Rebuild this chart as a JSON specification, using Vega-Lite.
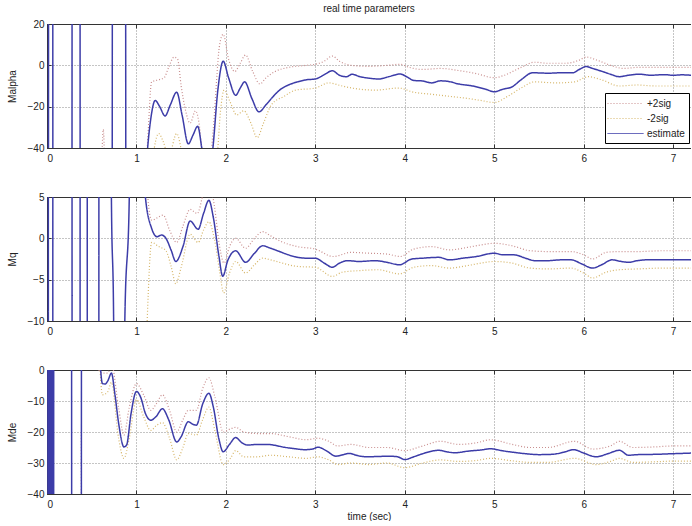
{
"$schema": "https://vega.github.io/schema/vega-lite/v6.json",
"background": "white",
"padding": {"left": 7, "top": 4, "right": 0, "bottom": 0},
"spacing": 49,
"bounds": "flush",
"config": {
  "font": "Liberation Sans",
  "view": {"stroke": null},
  "axis": {"labelFont": "Liberation Sans", "titleFont": "Liberation Sans", "labelFontSize": 10, "titleFontSize": 10, "titleFontWeight": "normal", "labelColor": "#222", "titleColor": "#222", "domainColor": "#333", "tickColor": "#333", "gridColor": "#8a8a8a", "gridDash": [1, 2], "gridOpacity": 1, "tickSize": -4},
  "legend": {"labelFont": "Liberation Sans", "labelFontSize": 10, "labelColor": "#222"},
  "title": {"font": "Liberation Sans", "fontSize": 10, "fontWeight": "normal", "color": "#222"}
},
"resolve": {"scale": {"color": "independent", "strokeDash": "independent"}},
"datasets": {"d": [
{"p":"Malpha","s":"+2sig","t":0.6,"v":-70},{"p":"Malpha","s":"+2sig","t":0.63,"v":-31},{"p":"Malpha","s":"+2sig","t":0.66,"v":-70},
{"p":"Malpha","s":"+2sig","t":1.08,"v":-60},{"p":"Malpha","s":"+2sig","t":1.12,"v":-40},{"p":"Malpha","s":"+2sig","t":1.17,"v":-8},{"p":"Malpha","s":"+2sig","t":1.25,"v":-7},{"p":"Malpha","s":"+2sig","t":1.31,"v":-6},{"p":"Malpha","s":"+2sig","t":1.36,"v":-1},{"p":"Malpha","s":"+2sig","t":1.42,"v":4},{"p":"Malpha","s":"+2sig","t":1.46,"v":3},{"p":"Malpha","s":"+2sig","t":1.5,"v":-10},{"p":"Malpha","s":"+2sig","t":1.55,"v":-22},{"p":"Malpha","s":"+2sig","t":1.6,"v":-28},{"p":"Malpha","s":"+2sig","t":1.66,"v":-22},{"p":"Malpha","s":"+2sig","t":1.7,"v":-28},{"p":"Malpha","s":"+2sig","t":1.74,"v":-45},{"p":"Malpha","s":"+2sig","t":1.8,"v":-55},{"p":"Malpha","s":"+2sig","t":1.86,"v":-30},{"p":"Malpha","s":"+2sig","t":1.93,"v":10},{"p":"Malpha","s":"+2sig","t":1.97,"v":15},{"p":"Malpha","s":"+2sig","t":2.03,"v":3},{"p":"Malpha","s":"+2sig","t":2.1,"v":-3},{"p":"Malpha","s":"+2sig","t":2.16,"v":1},{"p":"Malpha","s":"+2sig","t":2.22,"v":5},{"p":"Malpha","s":"+2sig","t":2.3,"v":-3},{"p":"Malpha","s":"+2sig","t":2.38,"v":-9},{"p":"Malpha","s":"+2sig","t":2.45,"v":-6},{"p":"Malpha","s":"+2sig","t":2.55,"v":-3},{"p":"Malpha","s":"+2sig","t":2.7,"v":-1},{"p":"Malpha","s":"+2sig","t":2.9,"v":0},{"p":"Malpha","s":"+2sig","t":3.0,"v":0.5},{"p":"Malpha","s":"+2sig","t":3.1,"v":2},{"p":"Malpha","s":"+2sig","t":3.19,"v":4.5},{"p":"Malpha","s":"+2sig","t":3.27,"v":2},{"p":"Malpha","s":"+2sig","t":3.4,"v":0},{"p":"Malpha","s":"+2sig","t":3.6,"v":-0.5},{"p":"Malpha","s":"+2sig","t":3.8,"v":0},{"p":"Malpha","s":"+2sig","t":3.95,"v":0.5},{"p":"Malpha","s":"+2sig","t":4.05,"v":-1},{"p":"Malpha","s":"+2sig","t":4.2,"v":-2},{"p":"Malpha","s":"+2sig","t":4.4,"v":-1.5},{"p":"Malpha","s":"+2sig","t":4.6,"v":-2.5},{"p":"Malpha","s":"+2sig","t":4.8,"v":-4},{"p":"Malpha","s":"+2sig","t":5.0,"v":-6},{"p":"Malpha","s":"+2sig","t":5.1,"v":-5},{"p":"Malpha","s":"+2sig","t":5.3,"v":-1},{"p":"Malpha","s":"+2sig","t":5.45,"v":1.5},{"p":"Malpha","s":"+2sig","t":5.6,"v":1},{"p":"Malpha","s":"+2sig","t":5.8,"v":1},{"p":"Malpha","s":"+2sig","t":5.95,"v":2.5},{"p":"Malpha","s":"+2sig","t":6.03,"v":4},{"p":"Malpha","s":"+2sig","t":6.15,"v":2.5},{"p":"Malpha","s":"+2sig","t":6.3,"v":0},{"p":"Malpha","s":"+2sig","t":6.45,"v":-1.5},{"p":"Malpha","s":"+2sig","t":6.6,"v":-1},{"p":"Malpha","s":"+2sig","t":6.8,"v":-1},{"p":"Malpha","s":"+2sig","t":7.0,"v":-1},{"p":"Malpha","s":"+2sig","t":7.2,"v":-1},
{"p":"Malpha","s":"-2sig","t":1.15,"v":-60},{"p":"Malpha","s":"-2sig","t":1.2,"v":-40},{"p":"Malpha","s":"-2sig","t":1.25,"v":-33},{"p":"Malpha","s":"-2sig","t":1.3,"v":-37},{"p":"Malpha","s":"-2sig","t":1.36,"v":-44},{"p":"Malpha","s":"-2sig","t":1.45,"v":-33},{"p":"Malpha","s":"-2sig","t":1.52,"v":-45},{"p":"Malpha","s":"-2sig","t":1.6,"v":-60},{"p":"Malpha","s":"-2sig","t":1.75,"v":-70},{"p":"Malpha","s":"-2sig","t":1.9,"v":-45},{"p":"Malpha","s":"-2sig","t":1.94,"v":-22},{"p":"Malpha","s":"-2sig","t":1.98,"v":-12},{"p":"Malpha","s":"-2sig","t":2.05,"v":-18},{"p":"Malpha","s":"-2sig","t":2.12,"v":-24},{"p":"Malpha","s":"-2sig","t":2.2,"v":-22},{"p":"Malpha","s":"-2sig","t":2.28,"v":-28},{"p":"Malpha","s":"-2sig","t":2.35,"v":-35},{"p":"Malpha","s":"-2sig","t":2.42,"v":-28},{"p":"Malpha","s":"-2sig","t":2.51,"v":-19},{"p":"Malpha","s":"-2sig","t":2.65,"v":-15},{"p":"Malpha","s":"-2sig","t":2.78,"v":-12},{"p":"Malpha","s":"-2sig","t":3.0,"v":-11},{"p":"Malpha","s":"-2sig","t":3.15,"v":-8.5},{"p":"Malpha","s":"-2sig","t":3.3,"v":-10},{"p":"Malpha","s":"-2sig","t":3.41,"v":-11},{"p":"Malpha","s":"-2sig","t":3.67,"v":-12},{"p":"Malpha","s":"-2sig","t":3.93,"v":-11},{"p":"Malpha","s":"-2sig","t":4.1,"v":-13},{"p":"Malpha","s":"-2sig","t":4.3,"v":-14},{"p":"Malpha","s":"-2sig","t":4.5,"v":-15},{"p":"Malpha","s":"-2sig","t":4.7,"v":-16},{"p":"Malpha","s":"-2sig","t":4.85,"v":-17},{"p":"Malpha","s":"-2sig","t":5.0,"v":-18},{"p":"Malpha","s":"-2sig","t":5.15,"v":-15},{"p":"Malpha","s":"-2sig","t":5.3,"v":-11},{"p":"Malpha","s":"-2sig","t":5.45,"v":-8},{"p":"Malpha","s":"-2sig","t":5.7,"v":-8.5},{"p":"Malpha","s":"-2sig","t":5.9,"v":-8},{"p":"Malpha","s":"-2sig","t":6.05,"v":-5.5},{"p":"Malpha","s":"-2sig","t":6.2,"v":-7},{"p":"Malpha","s":"-2sig","t":6.4,"v":-10},{"p":"Malpha","s":"-2sig","t":6.6,"v":-9.5},{"p":"Malpha","s":"-2sig","t":6.8,"v":-10},{"p":"Malpha","s":"-2sig","t":7.0,"v":-10},{"p":"Malpha","s":"-2sig","t":7.2,"v":-10},
{"p":"Malpha","s":"estimate","t":0.01,"v":-800},{"p":"Malpha","s":"estimate","t":0.03,"v":800},{"p":"Malpha","s":"estimate","t":0.055,"v":800},{"p":"Malpha","s":"estimate","t":0.075,"v":-800},{"p":"Malpha","s":"estimate","t":0.27,"v":-800},{"p":"Malpha","s":"estimate","t":0.29,"v":800},{"p":"Malpha","s":"estimate","t":0.36,"v":800},{"p":"Malpha","s":"estimate","t":0.38,"v":-800},{"p":"Malpha","s":"estimate","t":0.72,"v":-400},{"p":"Malpha","s":"estimate","t":0.74,"v":400},{"p":"Malpha","s":"estimate","t":0.87,"v":400},{"p":"Malpha","s":"estimate","t":0.89,"v":-400},{"p":"Malpha","s":"estimate","t":0.98,"v":-200},{"p":"Malpha","s":"estimate","t":1.06,"v":-90},{"p":"Malpha","s":"estimate","t":1.1,"v":-55},{"p":"Malpha","s":"estimate","t":1.125,"v":-40},{"p":"Malpha","s":"estimate","t":1.16,"v":-26},{"p":"Malpha","s":"estimate","t":1.21,"v":-17},{"p":"Malpha","s":"estimate","t":1.26,"v":-20},{"p":"Malpha","s":"estimate","t":1.32,"v":-24.5},{"p":"Malpha","s":"estimate","t":1.38,"v":-19},{"p":"Malpha","s":"estimate","t":1.45,"v":-13},{"p":"Malpha","s":"estimate","t":1.51,"v":-24},{"p":"Malpha","s":"estimate","t":1.58,"v":-38},{"p":"Malpha","s":"estimate","t":1.63,"v":-34},{"p":"Malpha","s":"estimate","t":1.685,"v":-29.5},{"p":"Malpha","s":"estimate","t":1.73,"v":-40},{"p":"Malpha","s":"estimate","t":1.79,"v":-60},{"p":"Malpha","s":"estimate","t":1.855,"v":-40},{"p":"Malpha","s":"estimate","t":1.91,"v":-12},{"p":"Malpha","s":"estimate","t":1.97,"v":2},{"p":"Malpha","s":"estimate","t":2.03,"v":-6},{"p":"Malpha","s":"estimate","t":2.11,"v":-14.5},{"p":"Malpha","s":"estimate","t":2.16,"v":-11},{"p":"Malpha","s":"estimate","t":2.21,"v":-8},{"p":"Malpha","s":"estimate","t":2.29,"v":-16},{"p":"Malpha","s":"estimate","t":2.37,"v":-22.5},{"p":"Malpha","s":"estimate","t":2.45,"v":-19},{"p":"Malpha","s":"estimate","t":2.52,"v":-15.5},{"p":"Malpha","s":"estimate","t":2.6,"v":-12},{"p":"Malpha","s":"estimate","t":2.7,"v":-9.5},{"p":"Malpha","s":"estimate","t":2.8,"v":-8},{"p":"Malpha","s":"estimate","t":2.9,"v":-7},{"p":"Malpha","s":"estimate","t":3.0,"v":-6.6},{"p":"Malpha","s":"estimate","t":3.1,"v":-4.5},{"p":"Malpha","s":"estimate","t":3.19,"v":-2.6},{"p":"Malpha","s":"estimate","t":3.27,"v":-4.8},{"p":"Malpha","s":"estimate","t":3.35,"v":-5.5},{"p":"Malpha","s":"estimate","t":3.41,"v":-4.3},{"p":"Malpha","s":"estimate","t":3.5,"v":-5.5},{"p":"Malpha","s":"estimate","t":3.6,"v":-6.2},{"p":"Malpha","s":"estimate","t":3.71,"v":-6.6},{"p":"Malpha","s":"estimate","t":3.82,"v":-5.5},{"p":"Malpha","s":"estimate","t":3.95,"v":-4.2},{"p":"Malpha","s":"estimate","t":4.02,"v":-5.5},{"p":"Malpha","s":"estimate","t":4.1,"v":-7.3},{"p":"Malpha","s":"estimate","t":4.2,"v":-7.6},{"p":"Malpha","s":"estimate","t":4.3,"v":-8.5},{"p":"Malpha","s":"estimate","t":4.4,"v":-7.5},{"p":"Malpha","s":"estimate","t":4.5,"v":-7.9},{"p":"Malpha","s":"estimate","t":4.6,"v":-9},{"p":"Malpha","s":"estimate","t":4.76,"v":-10},{"p":"Malpha","s":"estimate","t":4.9,"v":-11.5},{"p":"Malpha","s":"estimate","t":5.0,"v":-12.8},{"p":"Malpha","s":"estimate","t":5.1,"v":-11.5},{"p":"Malpha","s":"estimate","t":5.2,"v":-10.4},{"p":"Malpha","s":"estimate","t":5.3,"v":-7},{"p":"Malpha","s":"estimate","t":5.43,"v":-3.6},{"p":"Malpha","s":"estimate","t":5.6,"v":-3.8},{"p":"Malpha","s":"estimate","t":5.75,"v":-3.6},{"p":"Malpha","s":"estimate","t":5.88,"v":-3.6},{"p":"Malpha","s":"estimate","t":5.95,"v":-2},{"p":"Malpha","s":"estimate","t":6.03,"v":-0.6},{"p":"Malpha","s":"estimate","t":6.1,"v":-1.5},{"p":"Malpha","s":"estimate","t":6.21,"v":-3},{"p":"Malpha","s":"estimate","t":6.3,"v":-4.3},{"p":"Malpha","s":"estimate","t":6.4,"v":-5.5},{"p":"Malpha","s":"estimate","t":6.5,"v":-4.8},{"p":"Malpha","s":"estimate","t":6.62,"v":-4.3},{"p":"Malpha","s":"estimate","t":6.75,"v":-4.8},{"p":"Malpha","s":"estimate","t":6.9,"v":-4.5},{"p":"Malpha","s":"estimate","t":7.0,"v":-4.8},{"p":"Malpha","s":"estimate","t":7.1,"v":-4.6},{"p":"Malpha","s":"estimate","t":7.2,"v":-4.8},
{"p":"Mq","s":"+2sig","t":1.08,"v":20},{"p":"Mq","s":"+2sig","t":1.12,"v":6},{"p":"Mq","s":"+2sig","t":1.17,"v":2.2},{"p":"Mq","s":"+2sig","t":1.3,"v":2.8},{"p":"Mq","s":"+2sig","t":1.37,"v":1},{"p":"Mq","s":"+2sig","t":1.45,"v":-0.5},{"p":"Mq","s":"+2sig","t":1.52,"v":1.5},{"p":"Mq","s":"+2sig","t":1.6,"v":3.5},{"p":"Mq","s":"+2sig","t":1.68,"v":3},{"p":"Mq","s":"+2sig","t":1.75,"v":5.5},{"p":"Mq","s":"+2sig","t":1.81,"v":7},{"p":"Mq","s":"+2sig","t":1.87,"v":4},{"p":"Mq","s":"+2sig","t":1.93,"v":-1},{"p":"Mq","s":"+2sig","t":1.98,"v":-3},{"p":"Mq","s":"+2sig","t":2.04,"v":-1},{"p":"Mq","s":"+2sig","t":2.11,"v":0},{"p":"Mq","s":"+2sig","t":2.22,"v":-1.2},{"p":"Mq","s":"+2sig","t":2.32,"v":0},{"p":"Mq","s":"+2sig","t":2.41,"v":0.8},{"p":"Mq","s":"+2sig","t":2.5,"v":0.3},{"p":"Mq","s":"+2sig","t":2.6,"v":-0.3},{"p":"Mq","s":"+2sig","t":2.8,"v":-1},{"p":"Mq","s":"+2sig","t":3.0,"v":-1.3},{"p":"Mq","s":"+2sig","t":3.2,"v":-2.2},{"p":"Mq","s":"+2sig","t":3.4,"v":-1.7},{"p":"Mq","s":"+2sig","t":3.6,"v":-1.8},{"p":"Mq","s":"+2sig","t":3.8,"v":-1.9},{"p":"Mq","s":"+2sig","t":3.95,"v":-2.2},{"p":"Mq","s":"+2sig","t":4.1,"v":-1.3},{"p":"Mq","s":"+2sig","t":4.3,"v":-1},{"p":"Mq","s":"+2sig","t":4.5,"v":-1.4},{"p":"Mq","s":"+2sig","t":4.7,"v":-1.1},{"p":"Mq","s":"+2sig","t":4.85,"v":-0.8},{"p":"Mq","s":"+2sig","t":5.0,"v":-0.6},{"p":"Mq","s":"+2sig","t":5.2,"v":-0.9},{"p":"Mq","s":"+2sig","t":5.4,"v":-1.5},{"p":"Mq","s":"+2sig","t":5.6,"v":-1.6},{"p":"Mq","s":"+2sig","t":5.86,"v":-1.6},{"p":"Mq","s":"+2sig","t":6.0,"v":-2},{"p":"Mq","s":"+2sig","t":6.1,"v":-2.5},{"p":"Mq","s":"+2sig","t":6.25,"v":-1.7},{"p":"Mq","s":"+2sig","t":6.4,"v":-1.6},{"p":"Mq","s":"+2sig","t":6.6,"v":-1.6},{"p":"Mq","s":"+2sig","t":6.9,"v":-1.5},{"p":"Mq","s":"+2sig","t":7.2,"v":-1.5},
{"p":"Mq","s":"-2sig","t":1.12,"v":-10},{"p":"Mq","s":"-2sig","t":1.17,"v":-0.5},{"p":"Mq","s":"-2sig","t":1.25,"v":-1},{"p":"Mq","s":"-2sig","t":1.33,"v":-1.5},{"p":"Mq","s":"-2sig","t":1.39,"v":-3.5},{"p":"Mq","s":"-2sig","t":1.44,"v":-5.5},{"p":"Mq","s":"-2sig","t":1.5,"v":-3.5},{"p":"Mq","s":"-2sig","t":1.6,"v":0.5},{"p":"Mq","s":"-2sig","t":1.69,"v":-0.5},{"p":"Mq","s":"-2sig","t":1.75,"v":1},{"p":"Mq","s":"-2sig","t":1.81,"v":2},{"p":"Mq","s":"-2sig","t":1.87,"v":0},{"p":"Mq","s":"-2sig","t":1.93,"v":-4},{"p":"Mq","s":"-2sig","t":1.975,"v":-6.6},{"p":"Mq","s":"-2sig","t":2.04,"v":-4.2},{"p":"Mq","s":"-2sig","t":2.11,"v":-2.8},{"p":"Mq","s":"-2sig","t":2.22,"v":-4.2},{"p":"Mq","s":"-2sig","t":2.32,"v":-3.2},{"p":"Mq","s":"-2sig","t":2.41,"v":-2.4},{"p":"Mq","s":"-2sig","t":2.5,"v":-2.6},{"p":"Mq","s":"-2sig","t":2.6,"v":-2.9},{"p":"Mq","s":"-2sig","t":2.8,"v":-3.4},{"p":"Mq","s":"-2sig","t":3.0,"v":-3.5},{"p":"Mq","s":"-2sig","t":3.19,"v":-4.6},{"p":"Mq","s":"-2sig","t":3.3,"v":-4.1},{"p":"Mq","s":"-2sig","t":3.5,"v":-3.9},{"p":"Mq","s":"-2sig","t":3.7,"v":-3.8},{"p":"Mq","s":"-2sig","t":3.94,"v":-4.3},{"p":"Mq","s":"-2sig","t":4.1,"v":-3.5},{"p":"Mq","s":"-2sig","t":4.3,"v":-3.3},{"p":"Mq","s":"-2sig","t":4.5,"v":-3.6},{"p":"Mq","s":"-2sig","t":4.7,"v":-3.3},{"p":"Mq","s":"-2sig","t":4.85,"v":-3},{"p":"Mq","s":"-2sig","t":5.0,"v":-2.8},{"p":"Mq","s":"-2sig","t":5.2,"v":-3},{"p":"Mq","s":"-2sig","t":5.4,"v":-3.6},{"p":"Mq","s":"-2sig","t":5.6,"v":-3.7},{"p":"Mq","s":"-2sig","t":5.86,"v":-3.6},{"p":"Mq","s":"-2sig","t":6.0,"v":-4.2},{"p":"Mq","s":"-2sig","t":6.1,"v":-4.8},{"p":"Mq","s":"-2sig","t":6.25,"v":-4.1},{"p":"Mq","s":"-2sig","t":6.4,"v":-3.8},{"p":"Mq","s":"-2sig","t":6.6,"v":-3.7},{"p":"Mq","s":"-2sig","t":6.9,"v":-3.6},{"p":"Mq","s":"-2sig","t":7.2,"v":-3.6},
{"p":"Mq","s":"estimate","t":0.0,"v":500},{"p":"Mq","s":"estimate","t":0.008,"v":500},{"p":"Mq","s":"estimate","t":0.022,"v":-500},{"p":"Mq","s":"estimate","t":0.055,"v":-500},{"p":"Mq","s":"estimate","t":0.075,"v":500},{"p":"Mq","s":"estimate","t":0.27,"v":500},{"p":"Mq","s":"estimate","t":0.29,"v":-500},{"p":"Mq","s":"estimate","t":0.36,"v":-500},{"p":"Mq","s":"estimate","t":0.38,"v":500},{"p":"Mq","s":"estimate","t":0.44,"v":500},{"p":"Mq","s":"estimate","t":0.46,"v":-500},{"p":"Mq","s":"estimate","t":0.57,"v":-500},{"p":"Mq","s":"estimate","t":0.59,"v":500},{"p":"Mq","s":"estimate","t":0.7,"v":80},{"p":"Mq","s":"estimate","t":0.72,"v":5},{"p":"Mq","s":"estimate","t":0.745,"v":-10},{"p":"Mq","s":"estimate","t":0.77,"v":-80},{"p":"Mq","s":"estimate","t":0.85,"v":-80},{"p":"Mq","s":"estimate","t":0.87,"v":-10},{"p":"Mq","s":"estimate","t":0.92,"v":5},{"p":"Mq","s":"estimate","t":0.95,"v":80},{"p":"Mq","s":"estimate","t":1.05,"v":30},{"p":"Mq","s":"estimate","t":1.1,"v":5},{"p":"Mq","s":"estimate","t":1.17,"v":1.2},{"p":"Mq","s":"estimate","t":1.23,"v":0.2},{"p":"Mq","s":"estimate","t":1.28,"v":0.4},{"p":"Mq","s":"estimate","t":1.33,"v":0},{"p":"Mq","s":"estimate","t":1.39,"v":-1.5},{"p":"Mq","s":"estimate","t":1.44,"v":-2.8},{"p":"Mq","s":"estimate","t":1.52,"v":-1},{"p":"Mq","s":"estimate","t":1.6,"v":2.1},{"p":"Mq","s":"estimate","t":1.69,"v":1.1},{"p":"Mq","s":"estimate","t":1.75,"v":3},{"p":"Mq","s":"estimate","t":1.81,"v":4.6},{"p":"Mq","s":"estimate","t":1.86,"v":2.5},{"p":"Mq","s":"estimate","t":1.92,"v":-2},{"p":"Mq","s":"estimate","t":1.965,"v":-4.6},{"p":"Mq","s":"estimate","t":2.02,"v":-2.7},{"p":"Mq","s":"estimate","t":2.11,"v":-1.5},{"p":"Mq","s":"estimate","t":2.22,"v":-2.9},{"p":"Mq","s":"estimate","t":2.32,"v":-1.8},{"p":"Mq","s":"estimate","t":2.41,"v":-0.9},{"p":"Mq","s":"estimate","t":2.5,"v":-1.2},{"p":"Mq","s":"estimate","t":2.6,"v":-1.6},{"p":"Mq","s":"estimate","t":2.7,"v":-2},{"p":"Mq","s":"estimate","t":2.8,"v":-2.3},{"p":"Mq","s":"estimate","t":2.9,"v":-2.4},{"p":"Mq","s":"estimate","t":3.0,"v":-2.4},{"p":"Mq","s":"estimate","t":3.1,"v":-3},{"p":"Mq","s":"estimate","t":3.19,"v":-3.5},{"p":"Mq","s":"estimate","t":3.27,"v":-3.0},{"p":"Mq","s":"estimate","t":3.36,"v":-2.7},{"p":"Mq","s":"estimate","t":3.49,"v":-2.8},{"p":"Mq","s":"estimate","t":3.67,"v":-2.7},{"p":"Mq","s":"estimate","t":3.8,"v":-2.9},{"p":"Mq","s":"estimate","t":3.94,"v":-3.2},{"p":"Mq","s":"estimate","t":4.08,"v":-2.5},{"p":"Mq","s":"estimate","t":4.2,"v":-2.4},{"p":"Mq","s":"estimate","t":4.38,"v":-2.3},{"p":"Mq","s":"estimate","t":4.5,"v":-2.6},{"p":"Mq","s":"estimate","t":4.65,"v":-2.4},{"p":"Mq","s":"estimate","t":4.8,"v":-2.2},{"p":"Mq","s":"estimate","t":5.0,"v":-1.8},{"p":"Mq","s":"estimate","t":5.1,"v":-2.0},{"p":"Mq","s":"estimate","t":5.22,"v":-2.0},{"p":"Mq","s":"estimate","t":5.35,"v":-2.4},{"p":"Mq","s":"estimate","t":5.45,"v":-2.7},{"p":"Mq","s":"estimate","t":5.6,"v":-2.7},{"p":"Mq","s":"estimate","t":5.75,"v":-2.6},{"p":"Mq","s":"estimate","t":5.86,"v":-2.6},{"p":"Mq","s":"estimate","t":5.98,"v":-3.1},{"p":"Mq","s":"estimate","t":6.1,"v":-3.6},{"p":"Mq","s":"estimate","t":6.2,"v":-3.2},{"p":"Mq","s":"estimate","t":6.32,"v":-2.6},{"p":"Mq","s":"estimate","t":6.42,"v":-2.8},{"p":"Mq","s":"estimate","t":6.5,"v":-2.9},{"p":"Mq","s":"estimate","t":6.6,"v":-2.7},{"p":"Mq","s":"estimate","t":6.7,"v":-2.6},{"p":"Mq","s":"estimate","t":6.9,"v":-2.6},{"p":"Mq","s":"estimate","t":7.2,"v":-2.6},
{"p":"Mde","s":"+2sig","g":1,"t":0.384,"v":-20},{"p":"Mde","s":"+2sig","g":1,"t":0.386,"v":-300},
{"p":"Mde","s":"+2sig","t":0.55,"v":30},{"p":"Mde","s":"+2sig","t":0.58,"v":0},{"p":"Mde","s":"+2sig","t":0.62,"v":-1},{"p":"Mde","s":"+2sig","t":0.68,"v":-1},{"p":"Mde","s":"+2sig","t":0.72,"v":2},{"p":"Mde","s":"+2sig","t":0.8,"v":-12},{"p":"Mde","s":"+2sig","t":0.86,"v":-21},{"p":"Mde","s":"+2sig","t":0.92,"v":-12},{"p":"Mde","s":"+2sig","t":1.0,"v":-4.4},{"p":"Mde","s":"+2sig","t":1.08,"v":-8},{"p":"Mde","s":"+2sig","t":1.16,"v":-13},{"p":"Mde","s":"+2sig","t":1.22,"v":-11},{"p":"Mde","s":"+2sig","t":1.29,"v":-8},{"p":"Mde","s":"+2sig","t":1.37,"v":-13},{"p":"Mde","s":"+2sig","t":1.45,"v":-20},{"p":"Mde","s":"+2sig","t":1.52,"v":-16},{"p":"Mde","s":"+2sig","t":1.58,"v":-13},{"p":"Mde","s":"+2sig","t":1.67,"v":-13},{"p":"Mde","s":"+2sig","t":1.74,"v":-6},{"p":"Mde","s":"+2sig","t":1.81,"v":-2.5},{"p":"Mde","s":"+2sig","t":1.88,"v":-9},{"p":"Mde","s":"+2sig","t":1.97,"v":-20},{"p":"Mde","s":"+2sig","t":2.05,"v":-19},{"p":"Mde","s":"+2sig","t":2.11,"v":-18.5},{"p":"Mde","s":"+2sig","t":2.2,"v":-20},{"p":"Mde","s":"+2sig","t":2.35,"v":-20.5},{"p":"Mde","s":"+2sig","t":2.5,"v":-20.5},{"p":"Mde","s":"+2sig","t":2.7,"v":-21.5},{"p":"Mde","s":"+2sig","t":2.9,"v":-22.5},{"p":"Mde","s":"+2sig","t":3.03,"v":-22},{"p":"Mde","s":"+2sig","t":3.15,"v":-23},{"p":"Mde","s":"+2sig","t":3.25,"v":-24.5},{"p":"Mde","s":"+2sig","t":3.4,"v":-24},{"p":"Mde","s":"+2sig","t":3.6,"v":-25},{"p":"Mde","s":"+2sig","t":3.8,"v":-25},{"p":"Mde","s":"+2sig","t":4.0,"v":-26},{"p":"Mde","s":"+2sig","t":4.2,"v":-24.5},{"p":"Mde","s":"+2sig","t":4.4,"v":-23},{"p":"Mde","s":"+2sig","t":4.6,"v":-24},{"p":"Mde","s":"+2sig","t":4.8,"v":-23.5},{"p":"Mde","s":"+2sig","t":4.96,"v":-22.5},{"p":"Mde","s":"+2sig","t":5.2,"v":-24},{"p":"Mde","s":"+2sig","t":5.4,"v":-25},{"p":"Mde","s":"+2sig","t":5.6,"v":-25},{"p":"Mde","s":"+2sig","t":5.9,"v":-23},{"p":"Mde","s":"+2sig","t":6.1,"v":-25.5},{"p":"Mde","s":"+2sig","t":6.3,"v":-24.5},{"p":"Mde","s":"+2sig","t":6.4,"v":-23},{"p":"Mde","s":"+2sig","t":6.55,"v":-25},{"p":"Mde","s":"+2sig","t":6.8,"v":-24.8},{"p":"Mde","s":"+2sig","t":7.0,"v":-24.5},{"p":"Mde","s":"+2sig","t":7.2,"v":-24.5},
{"p":"Mde","s":"-2sig","t":0.57,"v":20},{"p":"Mde","s":"-2sig","t":0.6,"v":-3},{"p":"Mde","s":"-2sig","t":0.62,"v":-8},{"p":"Mde","s":"-2sig","t":0.68,"v":-7},{"p":"Mde","s":"-2sig","t":0.72,"v":-4},{"p":"Mde","s":"-2sig","t":0.8,"v":-22},{"p":"Mde","s":"-2sig","t":0.86,"v":-28.5},{"p":"Mde","s":"-2sig","t":0.92,"v":-22},{"p":"Mde","s":"-2sig","t":1.0,"v":-9.5},{"p":"Mde","s":"-2sig","t":1.08,"v":-15},{"p":"Mde","s":"-2sig","t":1.16,"v":-19.5},{"p":"Mde","s":"-2sig","t":1.22,"v":-18},{"p":"Mde","s":"-2sig","t":1.29,"v":-17},{"p":"Mde","s":"-2sig","t":1.37,"v":-22},{"p":"Mde","s":"-2sig","t":1.45,"v":-29},{"p":"Mde","s":"-2sig","t":1.52,"v":-25},{"p":"Mde","s":"-2sig","t":1.58,"v":-20.5},{"p":"Mde","s":"-2sig","t":1.67,"v":-21},{"p":"Mde","s":"-2sig","t":1.74,"v":-16},{"p":"Mde","s":"-2sig","t":1.81,"v":-12},{"p":"Mde","s":"-2sig","t":1.88,"v":-20},{"p":"Mde","s":"-2sig","t":1.97,"v":-30.5},{"p":"Mde","s":"-2sig","t":2.05,"v":-28.5},{"p":"Mde","s":"-2sig","t":2.11,"v":-26},{"p":"Mde","s":"-2sig","t":2.2,"v":-28},{"p":"Mde","s":"-2sig","t":2.35,"v":-28},{"p":"Mde","s":"-2sig","t":2.5,"v":-27.5},{"p":"Mde","s":"-2sig","t":2.7,"v":-28},{"p":"Mde","s":"-2sig","t":2.9,"v":-28.5},{"p":"Mde","s":"-2sig","t":3.03,"v":-28},{"p":"Mde","s":"-2sig","t":3.15,"v":-29},{"p":"Mde","s":"-2sig","t":3.25,"v":-30.5},{"p":"Mde","s":"-2sig","t":3.4,"v":-30},{"p":"Mde","s":"-2sig","t":3.6,"v":-30.5},{"p":"Mde","s":"-2sig","t":3.8,"v":-30},{"p":"Mde","s":"-2sig","t":4.0,"v":-31.5},{"p":"Mde","s":"-2sig","t":4.2,"v":-30},{"p":"Mde","s":"-2sig","t":4.4,"v":-29},{"p":"Mde","s":"-2sig","t":4.6,"v":-29.5},{"p":"Mde","s":"-2sig","t":4.8,"v":-29.2},{"p":"Mde","s":"-2sig","t":4.96,"v":-28.5},{"p":"Mde","s":"-2sig","t":5.2,"v":-29.3},{"p":"Mde","s":"-2sig","t":5.4,"v":-29.8},{"p":"Mde","s":"-2sig","t":5.6,"v":-29.8},{"p":"Mde","s":"-2sig","t":5.9,"v":-28.5},{"p":"Mde","s":"-2sig","t":6.14,"v":-30.5},{"p":"Mde","s":"-2sig","t":6.3,"v":-29.5},{"p":"Mde","s":"-2sig","t":6.4,"v":-28.5},{"p":"Mde","s":"-2sig","t":6.55,"v":-29.8},{"p":"Mde","s":"-2sig","t":6.8,"v":-29.6},{"p":"Mde","s":"-2sig","t":7.0,"v":-29.4},{"p":"Mde","s":"-2sig","t":7.2,"v":-29.4},
{"p":"Mde","s":"estimate","t":0.005,"v":400},{"p":"Mde","s":"estimate","t":0.02,"v":-400},{"p":"Mde","s":"estimate","t":0.03,"v":400},{"p":"Mde","s":"estimate","t":0.045,"v":-400},{"p":"Mde","s":"estimate","t":0.055,"v":400},{"p":"Mde","s":"estimate","t":0.07,"v":-400},{"p":"Mde","s":"estimate","t":0.08,"v":400},{"p":"Mde","s":"estimate","t":0.265,"v":400},{"p":"Mde","s":"estimate","t":0.285,"v":-400},{"p":"Mde","s":"estimate","t":0.375,"v":-400},{"p":"Mde","s":"estimate","t":0.395,"v":400},{"p":"Mde","s":"estimate","t":0.5,"v":150},{"p":"Mde","s":"estimate","t":0.57,"v":20},{"p":"Mde","s":"estimate","t":0.6,"v":0},{"p":"Mde","s":"estimate","t":0.62,"v":-4.4},{"p":"Mde","s":"estimate","t":0.65,"v":-4.5},{"p":"Mde","s":"estimate","t":0.68,"v":-3.5},{"p":"Mde","s":"estimate","t":0.72,"v":-1},{"p":"Mde","s":"estimate","t":0.76,"v":-8},{"p":"Mde","s":"estimate","t":0.8,"v":-17},{"p":"Mde","s":"estimate","t":0.86,"v":-24.8},{"p":"Mde","s":"estimate","t":0.89,"v":-24.2},{"p":"Mde","s":"estimate","t":0.94,"v":-14},{"p":"Mde","s":"estimate","t":1.0,"v":-6.9},{"p":"Mde","s":"estimate","t":1.05,"v":-9},{"p":"Mde","s":"estimate","t":1.1,"v":-14},{"p":"Mde","s":"estimate","t":1.16,"v":-16.2},{"p":"Mde","s":"estimate","t":1.22,"v":-15},{"p":"Mde","s":"estimate","t":1.29,"v":-12.5},{"p":"Mde","s":"estimate","t":1.36,"v":-16},{"p":"Mde","s":"estimate","t":1.45,"v":-23.2},{"p":"Mde","s":"estimate","t":1.5,"v":-21.5},{"p":"Mde","s":"estimate","t":1.58,"v":-16.7},{"p":"Mde","s":"estimate","t":1.63,"v":-17.5},{"p":"Mde","s":"estimate","t":1.67,"v":-17.8},{"p":"Mde","s":"estimate","t":1.74,"v":-11},{"p":"Mde","s":"estimate","t":1.81,"v":-7.5},{"p":"Mde","s":"estimate","t":1.86,"v":-12},{"p":"Mde","s":"estimate","t":1.92,"v":-22},{"p":"Mde","s":"estimate","t":1.97,"v":-26.4},{"p":"Mde","s":"estimate","t":2.04,"v":-24},{"p":"Mde","s":"estimate","t":2.11,"v":-21.8},{"p":"Mde","s":"estimate","t":2.18,"v":-23.5},{"p":"Mde","s":"estimate","t":2.24,"v":-24.2},{"p":"Mde","s":"estimate","t":2.35,"v":-24},{"p":"Mde","s":"estimate","t":2.45,"v":-24},{"p":"Mde","s":"estimate","t":2.55,"v":-24.3},{"p":"Mde","s":"estimate","t":2.63,"v":-24.8},{"p":"Mde","s":"estimate","t":2.75,"v":-25.3},{"p":"Mde","s":"estimate","t":2.89,"v":-25.7},{"p":"Mde","s":"estimate","t":2.97,"v":-25.5},{"p":"Mde","s":"estimate","t":3.03,"v":-24.9},{"p":"Mde","s":"estimate","t":3.12,"v":-26},{"p":"Mde","s":"estimate","t":3.23,"v":-27.8},{"p":"Mde","s":"estimate","t":3.3,"v":-27.4},{"p":"Mde","s":"estimate","t":3.38,"v":-26.9},{"p":"Mde","s":"estimate","t":3.47,"v":-27.6},{"p":"Mde","s":"estimate","t":3.57,"v":-28},{"p":"Mde","s":"estimate","t":3.7,"v":-27.9},{"p":"Mde","s":"estimate","t":3.83,"v":-27.8},{"p":"Mde","s":"estimate","t":3.92,"v":-28},{"p":"Mde","s":"estimate","t":4.0,"v":-28.9},{"p":"Mde","s":"estimate","t":4.1,"v":-28},{"p":"Mde","s":"estimate","t":4.2,"v":-27},{"p":"Mde","s":"estimate","t":4.38,"v":-25.9},{"p":"Mde","s":"estimate","t":4.47,"v":-26.4},{"p":"Mde","s":"estimate","t":4.56,"v":-26.7},{"p":"Mde","s":"estimate","t":4.7,"v":-26.2},{"p":"Mde","s":"estimate","t":4.85,"v":-25.8},{"p":"Mde","s":"estimate","t":4.96,"v":-25.4},{"p":"Mde","s":"estimate","t":5.08,"v":-26},{"p":"Mde","s":"estimate","t":5.2,"v":-26.5},{"p":"Mde","s":"estimate","t":5.35,"v":-27},{"p":"Mde","s":"estimate","t":5.5,"v":-27.3},{"p":"Mde","s":"estimate","t":5.65,"v":-27.2},{"p":"Mde","s":"estimate","t":5.78,"v":-26.5},{"p":"Mde","s":"estimate","t":5.89,"v":-25.7},{"p":"Mde","s":"estimate","t":6.0,"v":-26.8},{"p":"Mde","s":"estimate","t":6.14,"v":-28},{"p":"Mde","s":"estimate","t":6.27,"v":-27},{"p":"Mde","s":"estimate","t":6.4,"v":-25.9},{"p":"Mde","s":"estimate","t":6.5,"v":-27.5},{"p":"Mde","s":"estimate","t":6.6,"v":-27.3},{"p":"Mde","s":"estimate","t":6.8,"v":-27.2},{"p":"Mde","s":"estimate","t":7.0,"v":-27},{"p":"Mde","s":"estimate","t":7.2,"v":-26.8}
]},
"vconcat": [
{
  "width": 644, "height": 124,
  "title": {"text": "real time parameters", "offset": 5, "anchor": "middle"},
  "resolve": {"axis": {"x": "independent"}},
  "layer": [
    {"data": {"name": "d"}, "transform": [{"filter": "datum.p == 'Malpha' && datum.s != 'estimate'"}],
     "mark": {"type": "line", "clip": true, "interpolate": "monotone", "strokeWidth": 1.2},
     "encoding": {
       "x": {"field": "t", "type": "quantitative", "scale": {"domain": [0, 7.2], "nice": false, "zero": false}, "axis": {"orient": "bottom", "values": [0,1,2,3,4,5,6,7], "format": "d", "title": null, "grid": true, "labelPadding": 9}},
       "y": {"field": "v", "type": "quantitative", "scale": {"domain": [-40, 20], "nice": false, "zero": false}, "axis": {"values": [-40,-20,0,20], "title": "Malpha", "titleX": -30, "titleY": 62, "grid": true, "labelPadding": 7}},
       "detail": {"field": "g"},
       "color": {"field": "s", "type": "nominal", "scale": {"domain": ["+2sig","-2sig","estimate"], "range": ["#c98f8f","#d6b66a","#3c3ca8"]}, "legend": {"title": null, "orient": "none", "legendX": 558, "legendY": 69, "strokeColor": "#000", "fillColor": "#fff", "padding": 4, "symbolType": "M-3,0H3", "symbolSize": 144, "symbolStrokeWidth": 1, "symbolOffset": 10, "rowPadding": 3, "labelOffset": 15}},
       "strokeDash": {"field": "s", "type": "nominal", "scale": {"domain": ["+2sig","-2sig","estimate"], "range": [[1,2],[1,2],[1,0]]}, "legend": {"title": null, "orient": "none", "legendX": 558, "legendY": 69, "strokeColor": "#000", "fillColor": "#fff", "padding": 4, "symbolType": "M-3,0H3", "symbolSize": 144, "symbolStrokeWidth": 1, "symbolOffset": 10, "rowPadding": 3, "labelOffset": 15}}
     }},
    {"data": {"name": "d"}, "transform": [{"filter": "datum.p == 'Malpha' && datum.s == 'estimate'"}],
     "mark": {"type": "line", "clip": true, "interpolate": "monotone", "strokeWidth": 1.5},
     "encoding": {
       "x": {"field": "t", "type": "quantitative", "scale": {"domain": [0, 7.2], "nice": false, "zero": false}, "axis": {"orient": "top", "values": [0,1,2,3,4,5,6,7], "labels": false, "title": null, "grid": false}},
       "y": {"field": "v", "type": "quantitative", "scale": {"domain": [-40, 20], "nice": false, "zero": false}, "axis": {"values": [-40,-20,0,20], "title": "Malpha", "titleX": -30, "titleY": 62, "grid": true, "labelPadding": 7}},
       "color": {"field": "s", "type": "nominal", "scale": {"domain": ["+2sig","-2sig","estimate"], "range": ["#c98f8f","#d6b66a","#3c3ca8"]}},
       "strokeDash": {"field": "s", "type": "nominal", "scale": {"domain": ["+2sig","-2sig","estimate"], "range": [[1,2],[1,2],[1,0]]}}
     }}
  ]
},
{
  "width": 644, "height": 124,
  "resolve": {"axis": {"x": "independent"}},
  "layer": [
    {"data": {"name": "d"}, "transform": [{"filter": "datum.p == 'Mq' && datum.s != 'estimate'"}],
     "mark": {"type": "line", "clip": true, "interpolate": "monotone", "strokeWidth": 1.2},
     "encoding": {
       "x": {"field": "t", "type": "quantitative", "scale": {"domain": [0, 7.2], "nice": false, "zero": false}, "axis": {"orient": "bottom", "values": [0,1,2,3,4,5,6,7], "format": "d", "title": null, "grid": true, "labelPadding": 9}},
       "y": {"field": "v", "type": "quantitative", "scale": {"domain": [-10, 5], "nice": false, "zero": false}, "axis": {"values": [-10,-5,0,5], "title": "Mq", "titleX": -30, "titleY": 62, "grid": true, "labelPadding": 7}},
       "detail": {"field": "g"},
       "color": {"field": "s", "type": "nominal", "scale": {"domain": ["+2sig","-2sig","estimate"], "range": ["#c98f8f","#d6b66a","#3c3ca8"]}, "legend": null},
       "strokeDash": {"field": "s", "type": "nominal", "scale": {"domain": ["+2sig","-2sig","estimate"], "range": [[1,2],[1,2],[1,0]]}, "legend": null}
     }},
    {"data": {"name": "d"}, "transform": [{"filter": "datum.p == 'Mq' && datum.s == 'estimate'"}],
     "mark": {"type": "line", "clip": true, "interpolate": "monotone", "strokeWidth": 1.5},
     "encoding": {
       "x": {"field": "t", "type": "quantitative", "scale": {"domain": [0, 7.2], "nice": false, "zero": false}, "axis": {"orient": "top", "values": [0,1,2,3,4,5,6,7], "labels": false, "title": null, "grid": false}},
       "y": {"field": "v", "type": "quantitative", "scale": {"domain": [-10, 5], "nice": false, "zero": false}, "axis": {"values": [-10,-5,0,5], "title": "Mq", "titleX": -30, "titleY": 62, "grid": true, "labelPadding": 7}},
       "color": {"field": "s", "type": "nominal", "scale": {"domain": ["+2sig","-2sig","estimate"], "range": ["#c98f8f","#d6b66a","#3c3ca8"]}, "legend": null},
       "strokeDash": {"field": "s", "type": "nominal", "scale": {"domain": ["+2sig","-2sig","estimate"], "range": [[1,2],[1,2],[1,0]]}, "legend": null}
     }}
  ]
},
{
  "width": 644, "height": 124,
  "resolve": {"axis": {"x": "independent"}},
  "layer": [
    {"data": {"name": "d"}, "transform": [{"filter": "datum.p == 'Mde' && datum.s != 'estimate'"}],
     "mark": {"type": "line", "clip": true, "interpolate": "monotone", "strokeWidth": 1.2},
     "encoding": {
       "x": {"field": "t", "type": "quantitative", "scale": {"domain": [0, 7.2], "nice": false, "zero": false}, "axis": {"orient": "bottom", "values": [0,1,2,3,4,5,6,7], "format": "d", "title": "time (sec)", "titlePadding": 2, "grid": true, "labelPadding": 9}},
       "y": {"field": "v", "type": "quantitative", "scale": {"domain": [-40, 0], "nice": false, "zero": false}, "axis": {"values": [-40,-30,-20,-10,0], "title": "Mde", "titleX": -30, "titleY": 62, "grid": true, "labelPadding": 7}},
       "detail": {"field": "g"},
       "color": {"field": "s", "type": "nominal", "scale": {"domain": ["+2sig","-2sig","estimate"], "range": ["#c98f8f","#d6b66a","#3c3ca8"]}, "legend": null},
       "strokeDash": {"field": "s", "type": "nominal", "scale": {"domain": ["+2sig","-2sig","estimate"], "range": [[1,2],[1,2],[1,0]]}, "legend": null}
     }},
    {"data": {"name": "d"}, "transform": [{"filter": "datum.p == 'Mde' && datum.s == 'estimate'"}],
     "mark": {"type": "line", "clip": true, "interpolate": "monotone", "strokeWidth": 1.5},
     "encoding": {
       "x": {"field": "t", "type": "quantitative", "scale": {"domain": [0, 7.2], "nice": false, "zero": false}, "axis": {"orient": "top", "values": [0,1,2,3,4,5,6,7], "labels": false, "title": null, "grid": false}},
       "y": {"field": "v", "type": "quantitative", "scale": {"domain": [-40, 0], "nice": false, "zero": false}, "axis": {"values": [-40,-30,-20,-10,0], "title": "Mde", "titleX": -30, "titleY": 62, "grid": true, "labelPadding": 7}},
       "color": {"field": "s", "type": "nominal", "scale": {"domain": ["+2sig","-2sig","estimate"], "range": ["#c98f8f","#d6b66a","#3c3ca8"]}, "legend": null},
       "strokeDash": {"field": "s", "type": "nominal", "scale": {"domain": ["+2sig","-2sig","estimate"], "range": [[1,2],[1,2],[1,0]]}, "legend": null}
     }}
  ]
}
]
}
